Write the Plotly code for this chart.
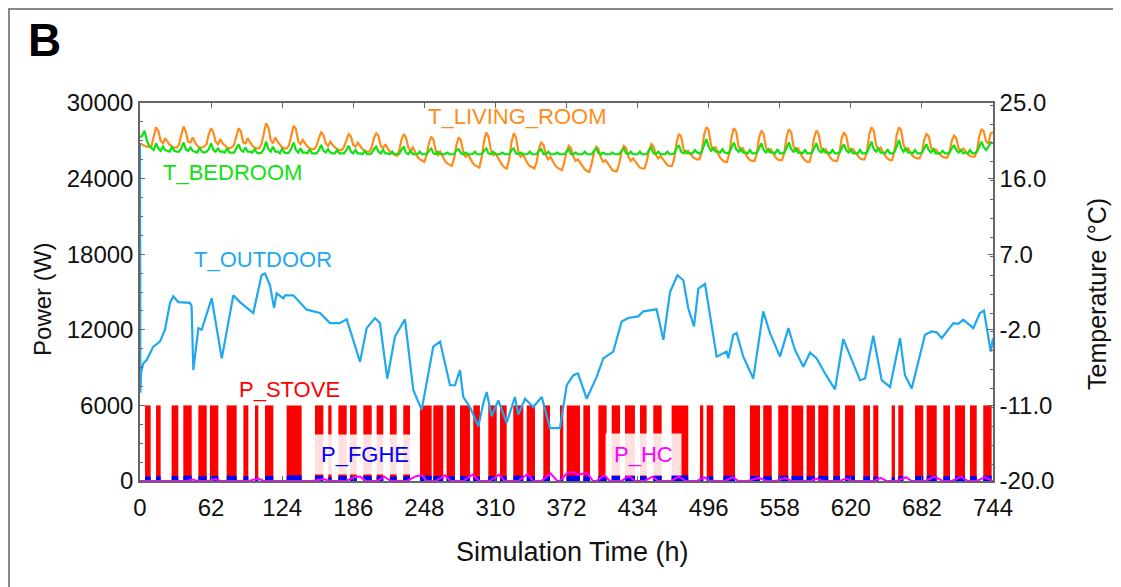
import plotly.graph_objects as go

# ---------------- data ----------------
X_TICKS = [0, 62, 124, 186, 248, 310, 372, 434, 496, 558, 620, 682, 744]
P_TICKS = [0, 6000, 12000, 18000, 24000, 30000]
T_TICKS = [-20.0, -11.0, -2.0, 7.0, 16.0, 25.0]

# stove on-periods (h) – stove runs at its nominal power while on
STOVE_POWER_W = 6000
STOVE_START_H = [4.4, 14.0, 27.6, 37.8, 50.9, 61.0, 75.6, 90.2, 100.3, 109.0,
                 127.9, 152.6, 164.2, 173.0, 183.2, 194.8, 206.4, 218.0, 229.6, 244.2,
                 255.8, 267.4, 279.1, 290.7, 303.8, 314.0, 325.6, 337.3, 351.8, 366.3,
                 372.2, 386.7, 399.8, 411.4, 423.0, 436.1, 447.7, 463.7, 488.4, 494.3,
                 508.8, 532.0, 543.6, 556.7, 568.3, 581.4, 591.6, 604.7, 614.9, 630.9,
                 639.6, 655.6, 661.4, 676.0, 686.2, 700.7, 710.9, 723.9, 735.5]
STOVE_END_H = [9.3, 18.0, 33.4, 45.1, 58.2, 68.3, 84.3, 94.5, 103.2, 116.3,
               141.0, 159.9, 167.1, 180.3, 189.0, 202.1, 212.2, 223.9, 235.5, 254.4,
               264.5, 274.7, 287.8, 296.5, 311.1, 319.8, 334.3, 344.5, 357.6, 369.2,
               383.8, 392.5, 407.0, 418.7, 431.7, 441.9, 455.0, 478.2, 491.3, 500.0,
               519.0, 540.8, 551.0, 565.4, 578.5, 588.7, 600.3, 610.5, 623.6, 636.7,
               644.0, 658.5, 665.8, 683.2, 694.9, 706.5, 719.6, 729.8, 742.8]
# flue-gas heat exchanger power during each stove period (W)
FGHE_W = [350, 380, 400, 420, 380, 400, 420, 380, 300, 400,
          450, 420, 300, 400, 380, 400, 380, 350, 380, 420,
          400, 380, 400, 350, 400, 380, 420, 400, 380, 300,
          420, 380, 400, 420, 400, 380, 400, 450, 300, 380,
          420, 400, 380, 420, 400, 380, 400, 380, 420, 380,
          350, 300, 380, 400, 420, 380, 400, 380, 420]

# heating coil power (h, W)
HC_T = [0, 40, 46, 50, 60, 66, 70, 95, 103, 108, 150, 160, 166, 180, 186, 192, 197,
        207, 213, 219, 233, 241, 246, 250, 258, 266, 271, 282, 290, 296, 305, 313, 318,
        330, 338, 343, 350, 358, 364, 366, 373, 378, 382, 390, 395, 398, 405, 410, 420,
        426, 432, 440, 447, 452, 463, 470, 476, 486, 492, 497, 510, 517, 522, 530, 540,
        546, 555, 563, 568, 585, 590, 595, 610, 616, 621, 640, 646, 651, 660, 668, 673,
        685, 693, 700, 708, 716, 722, 730, 737, 744]
HC_W = [0, 0, 120, 0, 0, 150, 0, 0, 200, 0, 0, 150, 0, 0, 300, 350, 0,
        0, 350, 0, 0, 400, 450, 0, 0, 450, 0, 0, 500, 0, 0, 500, 0,
        0, 550, 0, 0, 600, 0, 0, 650, 700, 500, 650, 0, 0, 450, 0, 0,
        400, 0, 0, 350, 0, 0, 350, 0, 0, 300, 0, 0, 300, 0, 0, 250,
        0, 0, 250, 0, 0, 200, 0, 0, 200, 0, 0, 250, 0, 0, 300, 0,
        0, 350, 0, 0, 350, 0, 0, 300, 0]

# outdoor temperature (h, degC)
T_OUTDOOR = [(0, 20.2), (0.3, -9.5), (1.0, -7.0), (2.9, -6.0), (5.8, -5.6), (11.6, -4.0),
             (17.4, -3.4), (21.8, -2.0), (26.2, 1.2), (29.0, 2.0), (33.4, 1.3), (43.6, 1.2),
             (45.0, 0.8), (46.5, -6.8), (50.9, -1.8), (53.8, -2.0), (62.5, 1.75), (71.3, -5.4),
             (81.4, 2.1), (87.2, 1.3), (98.8, 0.0), (106.0, 4.5), (109.0, 4.7), (113.4, 3.3),
             (116.9, 0.6), (119.2, 2.35), (125.0, 1.75), (126.5, 2.1), (133.7, 2.1), (145.4, 0.4),
             (157.0, 0.0), (165.7, -1.2), (174.4, -1.2), (180.3, -0.75), (191.9, -5.8),
             (197.7, -1.8), (205.0, -0.6), (209.3, -1.2), (215.7, -7.8), (222.4, -2.8),
             (231.1, -0.75), (238.4, -9.2), (245.7, -11.5), (255.8, -4.0), (261.7, -3.4),
             (270.4, -8.6), (274.7, -8.6), (279.1, -6.8), (282.0, -10.0), (287.8, -11.2),
             (295.1, -13.5), (299.4, -10.75), (302.4, -9.4), (306.7, -12.3), (312.5, -10.4),
             (319.8, -13.1), (327.0, -10.0), (330.0, -12.1), (335.8, -10.2), (343.0, -11.2),
             (350.4, -10.0), (357.6, -13.7), (366.3, -13.7), (372.2, -8.6), (378.0, -7.4),
             (382.0, -7.2), (389.6, -10.2), (398.3, -7.6), (404.1, -5.4), (412.8, -4.6),
             (420.1, -1.0), (425.9, -0.6), (434.6, -0.4), (439.0, 0.2), (450.6, 0.44),
             (456.5, -3.2), (462.3, 2.5), (468.7, 4.5), (473.9, 3.9), (478.2, 0.56),
             (483.2, -1.6), (487.0, 2.9), (492.8, 3.45), (503.0, -5.2), (511.7, -4.6),
             (513.1, -5.4), (517.5, -2.6), (520.4, -2.4), (526.2, -5.2), (534.9, -7.8),
             (543.6, 0.2), (549.5, -2.4), (558.2, -5.2), (565.5, -1.8), (571.3, -4.4),
             (578.6, -6.4), (584.4, -4.7), (590.2, -5.4), (597.5, -7.2), (606.2, -9.1),
             (613.4, -3.1), (622.2, -6.2), (628.0, -8.0), (632.4, -7.8), (639.6, -2.7),
             (646.9, -8.0), (654.2, -8.8), (662.9, -3.0), (667.2, -7.4), (673.1, -9.0),
             (684.7, -2.6), (690.5, -2.2), (694.9, -2.3), (699.2, -3.0), (709.4, -1.2),
             (713.7, -1.3), (718.1, -0.8), (726.8, -1.8), (732.6, 0.0), (736.1, 0.3),
             (742.0, -4.6), (744.0, -3.0)]

# room temperatures, sampled every 2 h (degC), one row per day
TIME_2H = list(range(0, 745, 2))
T_LIVING_ROOM = [
    20.2, 20.0, 19.9, 19.8, 19.8, 19.9, 21.0, 22.1, 21.7, 20.5, 20.2, 20.8,
    20.4, 20.0, 19.8, 19.7, 19.7, 20.0, 21.2, 22.2, 21.6, 20.4, 20.3, 20.9,
    20.3, 19.9, 19.7, 19.7, 19.8, 20.1, 21.3, 22.0, 21.5, 20.4, 20.1, 20.7,
    20.2, 19.9, 19.7, 19.6, 19.7, 20.0, 21.1, 22.0, 21.6, 20.3, 20.2, 20.8,
    20.3, 19.9, 19.7, 19.6, 19.6, 20.1, 21.4, 22.6, 22.1, 20.6, 20.2, 20.9,
    20.4, 20.0, 19.7, 19.6, 19.6, 20.0, 21.3, 22.3, 21.9, 20.5, 20.1, 20.6,
    20.2, 19.8, 19.6, 19.5, 19.5, 19.9, 20.8, 21.5, 21.2, 20.2, 19.9, 20.4,
    20.0, 19.7, 19.5, 19.4, 19.4, 19.8, 20.7, 21.3, 21.0, 20.0, 19.8, 20.3,
    19.9, 19.5, 19.3, 19.2, 19.2, 19.7, 20.8, 21.4, 21.1, 19.9, 19.6, 20.1,
    19.6, 19.2, 19.0, 18.8, 18.7, 19.3, 20.6, 21.3, 20.9, 19.7, 19.3, 19.7,
    19.1, 18.6, 18.3, 18.1, 18.0, 18.8, 20.2, 21.0, 20.6, 19.3, 18.8, 19.2,
    18.6, 18.1, 17.8, 17.6, 17.5, 18.4, 20.0, 20.9, 20.5, 19.1, 18.6, 18.9,
    18.4, 17.9, 17.6, 17.4, 17.3, 18.5, 20.4, 21.5, 21.0, 19.4, 18.8, 19.0,
    18.5, 18.0, 17.6, 17.3, 17.2, 18.3, 20.3, 21.4, 20.9, 19.2, 18.6, 18.9,
    18.3, 17.8, 17.5, 17.3, 17.2, 18.0, 19.6, 20.3, 20.0, 18.8, 18.3, 18.6,
    18.1, 17.6, 17.3, 17.1, 17.0, 17.9, 19.2, 19.9, 19.6, 18.6, 18.1, 18.3,
    17.9, 17.4, 17.1, 16.9, 16.8, 17.8, 19.1, 19.8, 19.5, 18.5, 18.0, 18.2,
    17.8, 17.3, 17.0, 16.9, 16.9, 17.8, 19.2, 19.9, 19.6, 18.6, 18.1, 18.4,
    18.0, 17.6, 17.3, 17.2, 17.2, 18.0, 19.4, 20.1, 19.8, 18.8, 18.4, 18.7,
    18.3, 17.9, 17.6, 17.5, 17.5, 18.4, 20.3, 21.3, 21.0, 19.5, 19.0, 19.3,
    18.9, 18.6, 18.4, 18.3, 18.3, 19.2, 21.2, 22.1, 21.8, 20.0, 19.4, 19.8,
    19.0, 18.5, 18.2, 18.0, 18.0, 19.0, 21.0, 22.0, 21.6, 19.9, 19.3, 19.6,
    19.0, 18.5, 18.2, 18.1, 18.1, 19.0, 20.9, 21.7, 21.3, 19.7, 19.2, 19.5,
    19.1, 18.6, 18.3, 18.2, 18.2, 19.1, 21.0, 21.9, 21.5, 19.8, 19.3, 19.6,
    19.0, 18.5, 18.2, 18.0, 18.0, 19.0, 20.9, 21.7, 21.3, 19.7, 19.2, 19.5,
    19.0, 18.5, 18.2, 18.1, 18.1, 19.0, 20.8, 21.5, 21.1, 19.6, 19.2, 19.5,
    19.1, 18.7, 18.4, 18.3, 18.3, 19.2, 21.2, 22.1, 21.7, 20.0, 19.4, 19.7,
    19.2, 18.7, 18.4, 18.2, 18.2, 19.2, 21.2, 22.1, 21.7, 20.0, 19.4, 19.6,
    19.1, 18.7, 18.5, 18.4, 18.4, 19.1, 20.6, 21.3, 21.0, 19.7, 19.3, 19.5,
    19.1, 18.8, 18.6, 18.5, 18.5, 19.1, 20.5, 21.1, 20.8, 19.6, 19.3, 19.6,
    19.2, 18.9, 18.7, 18.6, 18.6, 19.3, 21.0, 21.9, 21.6, 20.4, 20.2, 21.4,
    21.5]
T_BEDROOM = [
    20.9, 21.1, 21.7, 20.5, 19.9, 19.6, 19.4, 20.2, 19.6, 19.3, 19.8, 19.4,
    19.3, 19.2, 19.8, 19.3, 19.2, 19.2, 19.6, 20.3, 19.5, 19.3, 19.7, 19.3,
    19.2, 19.1, 19.7, 19.2, 19.1, 19.2, 19.5, 20.2, 19.4, 19.2, 19.6, 19.2,
    19.2, 19.1, 19.6, 19.1, 19.1, 19.1, 19.6, 20.1, 19.4, 19.2, 19.7, 19.2,
    19.2, 19.1, 19.5, 19.1, 19.0, 19.1, 19.5, 20.4, 19.5, 19.2, 19.8, 19.2,
    19.2, 19.0, 19.6, 19.1, 19.0, 19.1, 19.6, 20.3, 19.4, 19.1, 19.6, 19.1,
    19.1, 19.0, 19.5, 19.0, 19.0, 19.0, 19.4, 20.0, 19.3, 19.1, 19.5, 19.1,
    19.0, 19.0, 19.4, 19.0, 19.0, 19.0, 19.4, 19.9, 19.2, 19.0, 19.4, 19.0,
    19.0, 18.9, 19.3, 18.9, 18.9, 19.0, 19.5, 19.8, 19.2, 19.0, 19.4, 19.0,
    19.0, 18.9, 19.2, 18.9, 18.9, 18.9, 19.4, 19.8, 19.1, 18.9, 19.3, 18.9,
    18.9, 18.9, 19.2, 18.9, 18.9, 18.9, 19.3, 19.6, 19.0, 18.9, 19.2, 18.9,
    18.9, 18.9, 19.1, 18.9, 18.9, 18.9, 19.4, 19.5, 19.0, 18.9, 19.1, 18.9,
    18.9, 18.9, 19.2, 18.9, 18.9, 18.9, 19.3, 19.6, 19.0, 18.9, 19.2, 18.9,
    18.9, 18.9, 19.1, 18.9, 18.9, 18.9, 19.4, 19.6, 19.0, 18.9, 19.1, 18.9,
    18.9, 18.9, 19.2, 18.9, 18.9, 18.9, 19.3, 19.5, 18.9, 18.9, 19.2, 18.9,
    18.9, 18.9, 19.1, 18.9, 18.9, 18.9, 19.2, 19.5, 18.9, 18.9, 19.1, 18.9,
    18.9, 18.9, 19.2, 18.9, 18.9, 18.9, 19.3, 19.6, 19.0, 18.9, 19.1, 18.9,
    18.9, 18.9, 19.1, 18.9, 18.9, 18.9, 19.3, 19.6, 19.0, 18.9, 19.2, 18.9,
    18.9, 18.9, 19.2, 18.9, 18.9, 18.9, 19.4, 19.7, 19.0, 18.9, 19.2, 18.9,
    18.9, 18.9, 19.2, 18.9, 18.9, 19.0, 19.6, 20.0, 19.2, 19.0, 19.3, 19.0,
    19.0, 19.0, 19.4, 19.1, 19.0, 19.2, 20.0, 20.7, 19.8, 19.3, 19.6, 19.2,
    19.2, 19.1, 19.5, 19.1, 19.0, 19.1, 19.7, 20.3, 19.5, 19.2, 19.6, 19.1,
    19.1, 19.0, 19.4, 19.0, 19.0, 19.1, 19.6, 20.2, 19.4, 19.1, 19.5, 19.1,
    19.1, 19.0, 19.5, 19.0, 19.0, 19.1, 19.7, 20.3, 19.5, 19.2, 19.6, 19.1,
    19.1, 19.0, 19.4, 19.0, 19.0, 19.1, 19.6, 20.2, 19.4, 19.1, 19.5, 19.1,
    19.1, 19.0, 19.4, 19.0, 19.0, 19.1, 19.6, 20.1, 19.4, 19.1, 19.5, 19.0,
    19.0, 19.0, 19.4, 19.0, 19.0, 19.1, 19.7, 20.4, 19.5, 19.2, 19.6, 19.1,
    19.1, 19.0, 19.5, 19.0, 19.0, 19.2, 19.8, 20.6, 19.6, 19.2, 19.6, 19.1,
    19.1, 19.0, 19.4, 19.0, 19.0, 19.1, 19.6, 20.1, 19.4, 19.1, 19.5, 19.0,
    19.0, 19.0, 19.3, 19.0, 19.0, 19.1, 19.6, 20.0, 19.4, 19.1, 19.4, 19.0,
    19.1, 19.0, 19.4, 19.0, 19.0, 19.2, 19.8, 20.4, 19.7, 19.4, 19.8, 20.3,
    20.2]

# ---------------- styling ----------------
FONT = "Arial, Liberation Sans, sans-serif"
C_LR, C_BR, C_OUT = "#FF8C1A", "#11E011", "#1EA8EE"
C_STOVE, C_FGHE, C_HC = "#FF0000", "#0000FF", "#FF00FF"
AX = "#666666"

stove_x = [(s + e) / 2 for s, e in zip(STOVE_START_H, STOVE_END_H)]
stove_w = [e - s for s, e in zip(STOVE_START_H, STOVE_END_H)]
stove_p = [STOVE_POWER_W for _ in STOVE_START_H]
out_t = [p[0] for p in T_OUTDOOR]
out_v = [p[1] for p in T_OUTDOOR]

fig = go.Figure()
fig.add_trace(go.Bar(x=stove_x, y=stove_p, width=stove_w, marker=dict(color=C_STOVE, line=dict(width=0)),
                     name="P_STOVE"))
fig.add_trace(go.Bar(x=stove_x, y=FGHE_W, width=stove_w, marker=dict(color=C_FGHE, line=dict(width=0)),
                     name="P_FGHE"))
fig.add_trace(go.Scatter(x=HC_T, y=HC_W, mode="lines", line=dict(color=C_HC, width=2), name="P_HC"))
fig.add_trace(go.Scatter(x=TIME_2H, y=T_LIVING_ROOM, yaxis="y2", mode="lines",
                         line=dict(color=C_LR, width=2.2), name="T_LIVING_ROOM"))
fig.add_trace(go.Scatter(x=TIME_2H, y=T_BEDROOM, yaxis="y2", mode="lines",
                         line=dict(color=C_BR, width=2.2), name="T_BEDROOM"))
fig.add_trace(go.Scatter(x=out_t, y=out_v, yaxis="y2", mode="lines",
                         line=dict(color=C_OUT, width=2.2), name="T_OUTDOOR"))

# page body has an 8 px margin: the plot area sits at page x 140..993, y 103..481
tickfont = dict(family=FONT, size=24, color="#111111")
fig.update_layout(
    width=1113, height=579,
    margin=dict(l=132, r=128, t=95, b=106),
    paper_bgcolor="white", plot_bgcolor="white",
    showlegend=False, barmode="overlay",
    xaxis=dict(range=[0, 744], tickvals=X_TICKS, ticktext=[str(v) for v in X_TICKS],
               showline=True, linecolor=AX, linewidth=1.5, mirror="ticks",
               ticks="inside", ticklen=5, tickcolor=AX, showgrid=False, zeroline=False,
               tickfont=tickfont, ticklabelstandoff=4),
    yaxis=dict(range=[0, 30000], tickvals=P_TICKS, ticktext=[str(v) for v in P_TICKS],
               showline=True, linecolor=AX, linewidth=1.5, ticks="inside", ticklen=5,
               tickcolor=AX, showgrid=False, zeroline=False, tickfont=tickfont,
               minor=dict(dtick=1500, ticks="inside", ticklen=3, tickcolor=AX)),
    yaxis2=dict(range=[-20, 25], overlaying="y", side="right", tickvals=T_TICKS,
                ticktext=[f"{v:.1f}" for v in T_TICKS],
                showline=True, linecolor=AX, linewidth=1.5, ticks="inside", ticklen=5,
                tickcolor=AX, showgrid=False, zeroline=False, tickfont=tickfont,
                minor=dict(dtick=2.25, ticks="inside", ticklen=3, tickcolor=AX)),
)

def ann(text, x, y, color, size=22, **kw):
    fig.add_annotation(text=text, x=x, y=y, xref="paper", yref="paper", showarrow=False,
                       xanchor="center", yanchor="middle",
                       font=dict(family=FONT, size=size, color=color), **kw)

ann("T_LIVING_ROOM", 0.442, 0.963, C_LR)
ann("T_BEDROOM", 0.109, 0.817, C_BR)
ann("T_OUTDOOR", 0.144, 0.585, C_OUT)
ann("P_STOVE", 0.175, 0.243, C_STOVE)
ann("P_FGHE", 0.264, 0.069, C_FGHE, bgcolor="rgba(255,255,255,0.88)", borderpad=7)
ann("P_HC", 0.590, 0.069, C_HC, bgcolor="rgba(255,255,255,0.88)", borderpad=8)
ann("<b>B</b>", -0.1125, 1.1667, "#000000", size=46)
ann("Power (W)", -0.1137, 0.479, "#111111", size=24, textangle=-90)
ann("Temperature (°C)", 1.122, 0.495, "#111111", size=25, textangle=-90)
ann("Simulation Time (h)", 0.5065, -0.188, "#111111", size=27)

# outer figure frame
fig.add_shape(type="rect", xref="paper", yref="paper", x0=-0.1536, x1=1.2, y0=-0.35, y1=1.2487,
              line=dict(color="#888888", width=2), fillcolor="rgba(0,0,0,0)", layer="below")

fig.write_html("out.html")
